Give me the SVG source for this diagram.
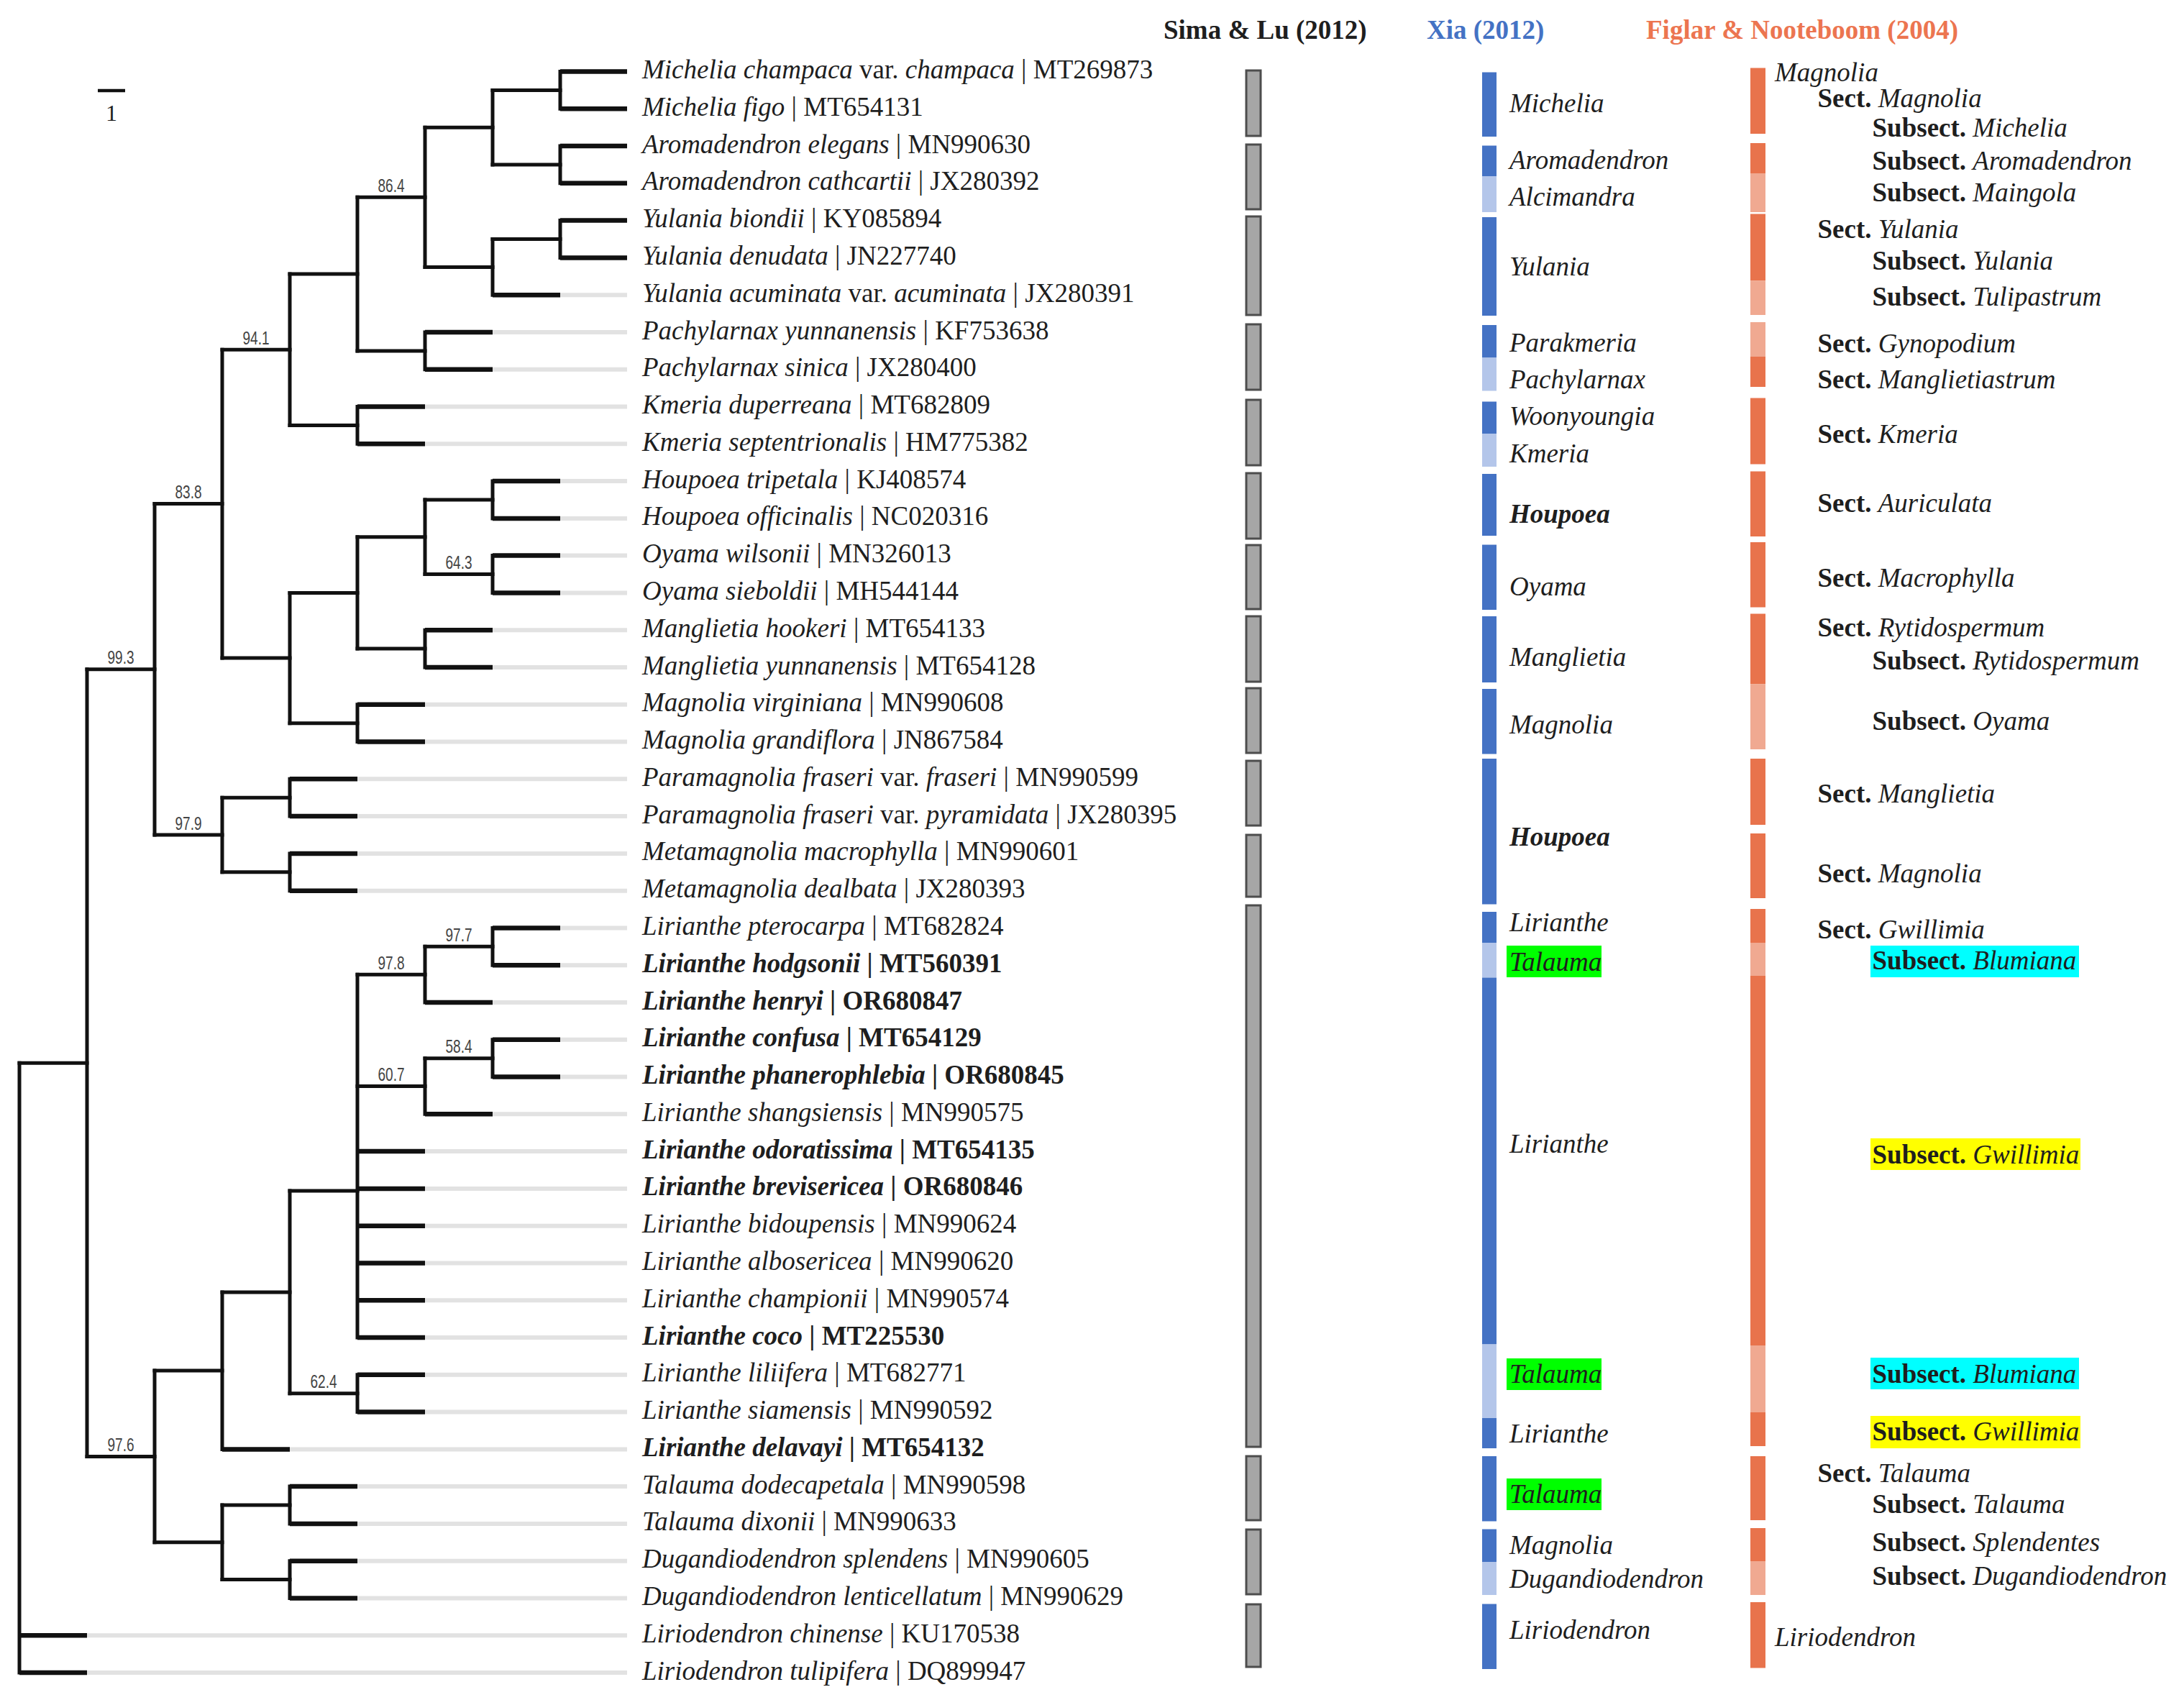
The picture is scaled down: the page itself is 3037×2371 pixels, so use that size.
<svg xmlns="http://www.w3.org/2000/svg" width="3037" height="2371" viewBox="0 0 3037 2371">
<style>
text{font-family:"Liberation Serif","Times New Roman",serif;font-size:37px;fill:#1e1e1e}
.i{font-style:italic}
.b{font-weight:bold}
.bs{font-family:"Liberation Sans",Arial,sans-serif;font-size:26px;fill:#444;text-anchor:middle}
.hd{font-weight:bold}
.br{stroke:#111;stroke-width:5;stroke-linecap:square;fill:none}
.lf{stroke:#111;stroke-width:6.5;fill:none}
.gr{stroke:#e2e2e2;stroke-width:6;fill:none}
.sima{fill:#a6a6a6;stroke:#4d4d4d;stroke-width:3}
.xd{fill:#4472c4}.xl{fill:#b4c6ea}
.fd{fill:#e8734c}.fl{fill:#f0a991}
</style>
<rect width="3037" height="2371" fill="#fff"/>
<g id="scale-bar">
<path d="M136 126H174" stroke="#111" stroke-width="4.5"/>
<text x="155" y="168" text-anchor="middle" style="font-size:32px">1</text>
</g>
<g id="connectors">
<path class="gr" d="M779 410.2H872M685 462H872M685 513.7H872M591 565.5H872M591 617.3H872M779 669.1H872M779 720.9H872M779 772.6H872M779 824.4H872M685 876.2H872M685 928H872M591 979.8H872M591 1031.5H872M497 1083.3H872M497 1135.1H872M497 1186.9H872M497 1238.7H872M779 1290.4H872M779 1342.2H872M685 1394H872M779 1445.8H872M779 1497.6H872M685 1549.3H872M591 1601.1H872M591 1652.9H872M591 1704.7H872M591 1756.5H872M591 1808.2H872M591 1860H872M591 1911.8H872M591 1963.6H872M403 2015.4H872M497 2067.1H872M497 2118.9H872M497 2170.7H872M497 2222.5H872M121 2274.3H872M121 2326H872"/>
<path class="br" d="M27 1478.2V2326M121 930.8V2025.5M215 700.6V1161M215 1906.1V2144.8M309 486.2V915M309 1109.2V1212.8M309 1796.9V2015.4M309 2093V2196.6M403 381.1V591.4M403 824.4V1005.7M403 1083.3V1135.1M403 1186.9V1238.7M403 1656.1V1937.7M403 2067.1V2118.9M403 2170.7V2222.5M497 274.3V487.9M497 565.5V617.3M497 746.8V902.1M497 979.8V1031.5M497 1355.2V1860M497 1911.8V1963.6M591 177.2V371.4M591 462V513.7M591 695V798.5M591 876.2V928M591 1316.3V1394M591 1471.7V1549.3M685 125.4V229M685 332.5V410.2M685 669.1V720.9M685 772.6V824.4M685 1290.4V1342.2M685 1445.8V1497.6M779 99.5V151.3M779 203.1V254.8M779 306.6V358.4"/>
<path class="br" d="M27 1478.2H121M121 930.8H215M121 2025.5H215M215 700.6H309M215 1161H309M309 486.2H403M309 915H403M403 381.1H497M403 591.4H497M497 274.3H591M497 487.9H591M591 177.2H685M591 371.4H685M685 125.4H779M685 229H779M685 332.5H779M403 824.4H497M403 1005.7H497M497 746.8H591M497 902.1H591M591 695H685M591 798.5H685M309 1109.2H403M309 1212.8H403M215 1906.1H309M215 2144.8H309M309 1796.9H403M403 1656.1H497M403 1937.7H497M497 1355.2H591M497 1510.5H591M591 1316.3H685M591 1471.7H685M309 2093H403M309 2196.6H403"/>
<path class="lf" d="M779 99.5H872M779 151.3H872M779 203.1H872M779 254.8H872M779 306.6H872M779 358.4H872M685 410.2H779M591 462H685M591 513.7H685M497 565.5H591M497 617.3H591M685 669.1H779M685 720.9H779M685 772.6H779M685 824.4H779M591 876.2H685M591 928H685M497 979.8H591M497 1031.5H591M403 1083.3H497M403 1135.1H497M403 1186.9H497M403 1238.7H497M685 1290.4H779M685 1342.2H779M591 1394H685M685 1445.8H779M685 1497.6H779M591 1549.3H685M497 1601.1H591M497 1652.9H591M497 1704.7H591M497 1756.5H591M497 1808.2H591M497 1860H591M497 1911.8H591M497 1963.6H591M309 2015.4H403M403 2067.1H497M403 2118.9H497M403 2170.7H497M403 2222.5H497M27 2274.3H121M27 2326H121"/>
</g>
<g id="support-values">
<text class="bs" x="544" y="266.8" textLength="37" lengthAdjust="spacingAndGlyphs">86.4</text>
<text class="bs" x="356" y="478.7" textLength="37" lengthAdjust="spacingAndGlyphs">94.1</text>
<text class="bs" x="262" y="693.1" textLength="37" lengthAdjust="spacingAndGlyphs">83.8</text>
<text class="bs" x="168" y="923.3" textLength="37" lengthAdjust="spacingAndGlyphs">99.3</text>
<text class="bs" x="638" y="791" textLength="37" lengthAdjust="spacingAndGlyphs">64.3</text>
<text class="bs" x="262" y="1153.5" textLength="37" lengthAdjust="spacingAndGlyphs">97.9</text>
<text class="bs" x="638" y="1308.8" textLength="37" lengthAdjust="spacingAndGlyphs">97.7</text>
<text class="bs" x="544" y="1347.7" textLength="37" lengthAdjust="spacingAndGlyphs">97.8</text>
<text class="bs" x="638" y="1464.2" textLength="37" lengthAdjust="spacingAndGlyphs">58.4</text>
<text class="bs" x="544" y="1503" textLength="37" lengthAdjust="spacingAndGlyphs">60.7</text>
<text class="bs" x="450" y="1930.2" textLength="37" lengthAdjust="spacingAndGlyphs">62.4</text>
<text class="bs" x="168" y="2018" textLength="37" lengthAdjust="spacingAndGlyphs">97.6</text>
</g>
<g id="taxa" transform="translate(0,-1.5)">
<g id="t00"><text x="893" y="110.5"><tspan class="i">Michelia champaca</tspan> var. <tspan class="i">champaca</tspan> | MT269873</text></g>
<g id="t01"><text x="893" y="162.3"><tspan class="i">Michelia figo</tspan> | MT654131</text></g>
<g id="t02"><text x="893" y="214.1"><tspan class="i">Aromadendron elegans</tspan> | MN990630</text></g>
<g id="t03"><text x="893" y="265.8"><tspan class="i">Aromadendron cathcartii</tspan> | JX280392</text></g>
<g id="t04"><text x="893" y="317.6"><tspan class="i">Yulania biondii</tspan> | KY085894</text></g>
<g id="t05"><text x="893" y="369.4"><tspan class="i">Yulania denudata</tspan> | JN227740</text></g>
<g id="t06"><text x="893" y="421.2"><tspan class="i">Yulania acuminata</tspan> var. <tspan class="i">acuminata</tspan> | JX280391</text></g>
<g id="t07"><text x="893" y="473"><tspan class="i">Pachylarnax yunnanensis</tspan> | KF753638</text></g>
<g id="t08"><text x="893" y="524.7"><tspan class="i">Pachylarnax sinica</tspan> | JX280400</text></g>
<g id="t09"><text x="893" y="576.5"><tspan class="i">Kmeria duperreana</tspan> | MT682809</text></g>
<g id="t10"><text x="893" y="628.3"><tspan class="i">Kmeria septentrionalis</tspan> | HM775382</text></g>
<g id="t11"><text x="893" y="680.1"><tspan class="i">Houpoea tripetala</tspan> | KJ408574</text></g>
<g id="t12"><text x="893" y="731.9"><tspan class="i">Houpoea officinalis</tspan> | NC020316</text></g>
<g id="t13"><text x="893" y="783.6"><tspan class="i">Oyama wilsonii</tspan> | MN326013</text></g>
<g id="t14"><text x="893" y="835.4"><tspan class="i">Oyama sieboldii</tspan> | MH544144</text></g>
<g id="t15"><text x="893" y="887.2"><tspan class="i">Manglietia hookeri</tspan> | MT654133</text></g>
<g id="t16"><text x="893" y="939"><tspan class="i">Manglietia yunnanensis</tspan> | MT654128</text></g>
<g id="t17"><text x="893" y="990.8"><tspan class="i">Magnolia virginiana</tspan> | MN990608</text></g>
<g id="t18"><text x="893" y="1042.5"><tspan class="i">Magnolia grandiflora</tspan> | JN867584</text></g>
<g id="t19"><text x="893" y="1094.3"><tspan class="i">Paramagnolia fraseri</tspan> var. <tspan class="i">fraseri</tspan> | MN990599</text></g>
<g id="t20"><text x="893" y="1146.1"><tspan class="i">Paramagnolia fraseri</tspan> var. <tspan class="i">pyramidata</tspan> | JX280395</text></g>
<g id="t21"><text x="893" y="1197.9"><tspan class="i">Metamagnolia macrophylla</tspan> | MN990601</text></g>
<g id="t22"><text x="893" y="1249.7"><tspan class="i">Metamagnolia dealbata</tspan> | JX280393</text></g>
<g id="t23"><text x="893" y="1301.4"><tspan class="i">Lirianthe pterocarpa</tspan> | MT682824</text></g>
<g id="t24"><text x="893" y="1353.2" class="b"><tspan class="i">Lirianthe hodgsonii</tspan> | MT560391</text></g>
<g id="t25"><text x="893" y="1405" class="b"><tspan class="i">Lirianthe henryi</tspan> | OR680847</text></g>
<g id="t26"><text x="893" y="1456.8" class="b"><tspan class="i">Lirianthe confusa</tspan> | MT654129</text></g>
<g id="t27"><text x="893" y="1508.6" class="b"><tspan class="i">Lirianthe phanerophlebia</tspan> | OR680845</text></g>
<g id="t28"><text x="893" y="1560.3"><tspan class="i">Lirianthe shangsiensis</tspan> | MN990575</text></g>
<g id="t29"><text x="893" y="1612.1" class="b"><tspan class="i">Lirianthe odoratissima</tspan> | MT654135</text></g>
<g id="t30"><text x="893" y="1663.9" class="b"><tspan class="i">Lirianthe brevisericea</tspan> | OR680846</text></g>
<g id="t31"><text x="893" y="1715.7"><tspan class="i">Lirianthe bidoupensis</tspan> | MN990624</text></g>
<g id="t32"><text x="893" y="1767.5"><tspan class="i">Lirianthe albosericea</tspan> | MN990620</text></g>
<g id="t33"><text x="893" y="1819.2"><tspan class="i">Lirianthe championii</tspan> | MN990574</text></g>
<g id="t34"><text x="893" y="1871" class="b"><tspan class="i">Lirianthe coco</tspan> | MT225530</text></g>
<g id="t35"><text x="893" y="1922.8"><tspan class="i">Lirianthe liliifera</tspan> | MT682771</text></g>
<g id="t36"><text x="893" y="1974.6"><tspan class="i">Lirianthe siamensis</tspan> | MN990592</text></g>
<g id="t37"><text x="893" y="2026.4" class="b"><tspan class="i">Lirianthe delavayi</tspan> | MT654132</text></g>
<g id="t38"><text x="893" y="2078.1"><tspan class="i">Talauma dodecapetala</tspan> | MN990598</text></g>
<g id="t39"><text x="893" y="2129.9"><tspan class="i">Talauma dixonii</tspan> | MN990633</text></g>
<g id="t40"><text x="893" y="2181.7"><tspan class="i">Dugandiodendron splendens</tspan> | MN990605</text></g>
<g id="t41"><text x="893" y="2233.5"><tspan class="i">Dugandiodendron lenticellatum</tspan> | MN990629</text></g>
<g id="t42"><text x="893" y="2285.3"><tspan class="i">Liriodendron chinense</tspan> | KU170538</text></g>
<g id="t43"><text x="893" y="2337"><tspan class="i">Liriodendron tulipifera</tspan> | DQ899947</text></g>
</g>
<g id="headers">
<text class="hd" x="1618" y="54">Sima &amp; Lu (2012)</text>
<text class="hd" x="1984" y="54" style="fill:#4472c4">Xia (2012)</text>
<text class="hd" x="2289" y="54" style="fill:#ec7550">Figlar &amp; Nooteboom (2004)</text>
</g>
<g id="sima-lu">
<rect class="sima" x="1733" y="98" width="20" height="91"/>
<rect class="sima" x="1733" y="201" width="20" height="90"/>
<rect class="sima" x="1733" y="301" width="20" height="137"/>
<rect class="sima" x="1733" y="451" width="20" height="91"/>
<rect class="sima" x="1733" y="556" width="20" height="91"/>
<rect class="sima" x="1733" y="658" width="20" height="91"/>
<rect class="sima" x="1733" y="758" width="20" height="89"/>
<rect class="sima" x="1733" y="857" width="20" height="91"/>
<rect class="sima" x="1733" y="957" width="20" height="90"/>
<rect class="sima" x="1733" y="1058" width="20" height="90"/>
<rect class="sima" x="1733" y="1161" width="20" height="86"/>
<rect class="sima" x="1733" y="1259" width="20" height="753"/>
<rect class="sima" x="1733" y="2025" width="20" height="89"/>
<rect class="sima" x="1733" y="2127" width="20" height="90"/>
<rect class="sima" x="1733" y="2231" width="20" height="87"/>
</g>
<g id="xia">
<rect class="xd" x="2061" y="100.5" width="20" height="89.5"/>
<rect class="xd" x="2061" y="202.5" width="20" height="42.5"/>
<rect class="xl" x="2061" y="245" width="20" height="50"/>
<rect class="xd" x="2061" y="302" width="20" height="137"/>
<rect class="xd" x="2061" y="452" width="20" height="45.5"/>
<rect class="xl" x="2061" y="497.5" width="20" height="46"/>
<rect class="xd" x="2061" y="558.5" width="20" height="44.5"/>
<rect class="xl" x="2061" y="603" width="20" height="46"/>
<rect class="xd" x="2061" y="659" width="20" height="86"/>
<rect class="xd" x="2061" y="757.5" width="20" height="90.5"/>
<rect class="xd" x="2061" y="857" width="20" height="92"/>
<rect class="xd" x="2061" y="958" width="20" height="90.5"/>
<rect class="xd" x="2061" y="1055" width="20" height="202.5"/>
<rect class="xd" x="2061" y="1268" width="20" height="43"/>
<rect class="xl" x="2061" y="1311" width="20" height="48.5"/>
<rect class="xd" x="2061" y="1359.5" width="20" height="510"/>
<rect class="xl" x="2061" y="1869.5" width="20" height="102.5"/>
<rect class="xd" x="2061" y="1972" width="20" height="42"/>
<rect class="xd" x="2061" y="2025" width="20" height="90.5"/>
<rect class="xd" x="2061" y="2126.5" width="20" height="45.5"/>
<rect class="xl" x="2061" y="2172" width="20" height="46"/>
<rect class="xd" x="2061" y="2230.5" width="20" height="90.5"/>
<rect x="2095" y="1315" width="132" height="44" fill="#00ff00"/>
<rect x="2095" y="1889" width="132" height="44" fill="#00ff00"/>
<rect x="2095" y="2056" width="132" height="44" fill="#00ff00"/>
<text class="i" x="2099" y="155.5">Michelia</text>
<text class="i" x="2099" y="235">Aromadendron</text>
<text class="i" x="2099" y="285.5">Alcimandra</text>
<text class="i" x="2099" y="382.5">Yulania</text>
<text class="i" x="2099" y="489">Parakmeria</text>
<text class="i" x="2099" y="540">Pachylarnax</text>
<text class="i" x="2099" y="591">Woonyoungia</text>
<text class="i" x="2099" y="643">Kmeria</text>
<text class="i b" x="2099" y="727">Houpoea</text>
<text class="i" x="2099" y="827.5">Oyama</text>
<text class="i" x="2099" y="926">Manglietia</text>
<text class="i" x="2099" y="1020">Magnolia</text>
<text class="i b" x="2099" y="1176">Houpoea</text>
<text class="i" x="2099" y="1295">Lirianthe</text>
<text class="i" x="2099" y="1349.5">Talauma</text>
<text class="i" x="2099" y="1603">Lirianthe</text>
<text class="i" x="2099" y="1923">Talauma</text>
<text class="i" x="2099" y="2005.5">Lirianthe</text>
<text class="i" x="2099" y="2090">Talauma</text>
<text class="i" x="2099" y="2161">Magnolia</text>
<text class="i" x="2099" y="2208">Dugandiodendron</text>
<text class="i" x="2099" y="2279">Liriodendron</text>
</g>
<g id="figlar-nooteboom">
<rect class="fd" x="2434" y="94.5" width="21" height="91.5"/>
<rect class="fd" x="2434" y="199" width="21" height="42"/>
<rect class="fl" x="2434" y="241" width="21" height="54"/>
<rect class="fd" x="2434" y="297.5" width="21" height="93"/>
<rect class="fl" x="2434" y="390.5" width="21" height="47.5"/>
<rect class="fl" x="2434" y="448" width="21" height="48"/>
<rect class="fd" x="2434" y="496" width="21" height="42"/>
<rect class="fd" x="2434" y="553.5" width="21" height="92"/>
<rect class="fd" x="2434" y="655.5" width="21" height="90.5"/>
<rect class="fd" x="2434" y="754" width="21" height="90.5"/>
<rect class="fd" x="2434" y="853.5" width="21" height="98"/>
<rect class="fl" x="2434" y="951.5" width="21" height="90.5"/>
<rect class="fd" x="2434" y="1055" width="21" height="92"/>
<rect class="fd" x="2434" y="1159" width="21" height="90"/>
<rect class="fd" x="2434" y="1264" width="21" height="47"/>
<rect class="fl" x="2434" y="1311" width="21" height="46"/>
<rect class="fd" x="2434" y="1357" width="21" height="514"/>
<rect class="fl" x="2434" y="1871" width="21" height="93"/>
<rect class="fd" x="2434" y="1964" width="21" height="47"/>
<rect class="fd" x="2434" y="2025" width="21" height="89"/>
<rect class="fd" x="2434" y="2125" width="21" height="46"/>
<rect class="fl" x="2434" y="2171" width="21" height="47"/>
<rect class="fd" x="2434" y="2228" width="21" height="91.5"/>
<rect x="2601" y="1315" width="290" height="44" fill="#00ffff"/>
<rect x="2601" y="1583" width="292" height="44" fill="#ffff00"/>
<rect x="2601" y="1888" width="290" height="44" fill="#00ffff"/>
<rect x="2601" y="1969" width="292" height="45" fill="#ffff00"/>
<text class="i" x="2468" y="113">Magnolia</text>
<text x="2527.5" y="149"><tspan class="b">Sect.</tspan> <tspan class="i">Magnolia</tspan></text>
<text x="2603.5" y="190"><tspan class="b">Subsect.</tspan> <tspan class="i">Michelia</tspan></text>
<text x="2603.5" y="235.7"><tspan class="b">Subsect.</tspan> <tspan class="i">Aromadendron</tspan></text>
<text x="2603.5" y="279.6"><tspan class="b">Subsect.</tspan> <tspan class="i">Maingola</tspan></text>
<text x="2527.5" y="330.6"><tspan class="b">Sect.</tspan> <tspan class="i">Yulania</tspan></text>
<text x="2603.5" y="375"><tspan class="b">Subsect.</tspan> <tspan class="i">Yulania</tspan></text>
<text x="2603.5" y="424.5"><tspan class="b">Subsect.</tspan> <tspan class="i">Tulipastrum</tspan></text>
<text x="2527.5" y="489.8"><tspan class="b">Sect.</tspan> <tspan class="i">Gynopodium</tspan></text>
<text x="2527.5" y="539.8"><tspan class="b">Sect.</tspan> <tspan class="i">Manglietiastrum</tspan></text>
<text x="2527.5" y="616.3"><tspan class="b">Sect.</tspan> <tspan class="i">Kmeria</tspan></text>
<text x="2527.5" y="711.7"><tspan class="b">Sect.</tspan> <tspan class="i">Auriculata</tspan></text>
<text x="2527.5" y="816.3"><tspan class="b">Sect.</tspan> <tspan class="i">Macrophylla</tspan></text>
<text x="2527.5" y="885.2"><tspan class="b">Sect.</tspan> <tspan class="i">Rytidospermum</tspan></text>
<text x="2603.5" y="931"><tspan class="b">Subsect.</tspan> <tspan class="i">Rytidospermum</tspan></text>
<text x="2603.5" y="1015.3"><tspan class="b">Subsect.</tspan> <tspan class="i">Oyama</tspan></text>
<text x="2527.5" y="1116.3"><tspan class="b">Sect.</tspan> <tspan class="i">Manglietia</tspan></text>
<text x="2527.5" y="1227"><tspan class="b">Sect.</tspan> <tspan class="i">Magnolia</tspan></text>
<text x="2527.5" y="1305"><tspan class="b">Sect.</tspan> <tspan class="i">Gwillimia</tspan></text>
<text x="2603.5" y="1348"><tspan class="b">Subsect.</tspan> <tspan class="i">Blumiana</tspan></text>
<text x="2603.5" y="1618"><tspan class="b">Subsect.</tspan> <tspan class="i">Gwillimia</tspan></text>
<text x="2603.5" y="1923"><tspan class="b">Subsect.</tspan> <tspan class="i">Blumiana</tspan></text>
<text x="2603.5" y="2003"><tspan class="b">Subsect.</tspan> <tspan class="i">Gwillimia</tspan></text>
<text x="2527.5" y="2061"><tspan class="b">Sect.</tspan> <tspan class="i">Talauma</tspan></text>
<text x="2603.5" y="2104.4"><tspan class="b">Subsect.</tspan> <tspan class="i">Talauma</tspan></text>
<text x="2603.5" y="2156.7"><tspan class="b">Subsect.</tspan> <tspan class="i">Splendentes</tspan></text>
<text x="2603.5" y="2204.4"><tspan class="b">Subsect.</tspan> <tspan class="i">Dugandiodendron</tspan></text>
<text class="i" x="2468" y="2289">Liriodendron</text>
</g>
</svg>
